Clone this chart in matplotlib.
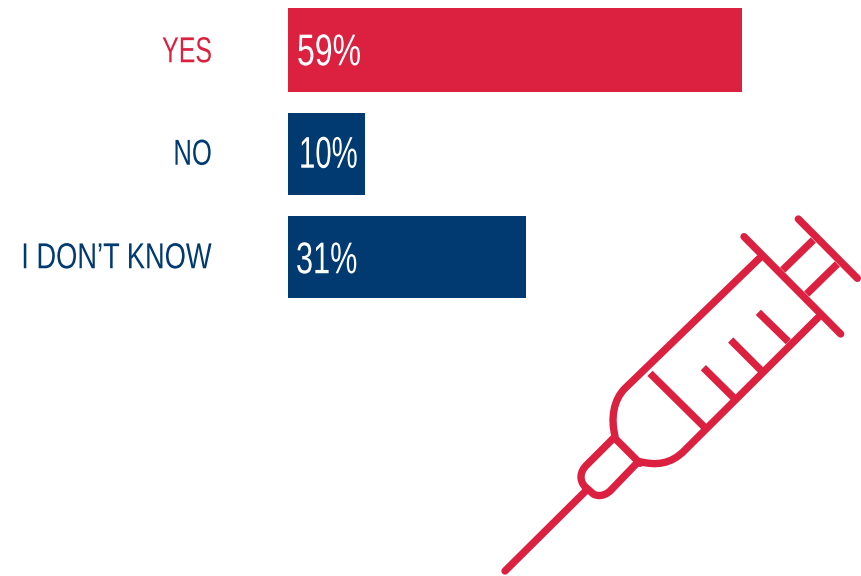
import matplotlib
matplotlib.use("Agg")
import matplotlib.pyplot as plt
from matplotlib.path import Path
from matplotlib.patches import PathPatch
from matplotlib.patheffects import AbstractPathEffect
from matplotlib.transforms import Affine2D

W, H = 861, 576
RED = "#DB2040"
NAVY = "#003A70"
PT = 0.72  # points per pixel at dpi 100

categories = ["YES", "NO", "I DON\u2019T KNOW"]
values = [59, 10, 31]
bar_colors = [RED, NAVY, NAVY]
label_colors = [RED, NAVY, NAVY]
bar_heights = [0.81, 0.79, 0.79]

# label placement in px relative to the bar start / bar centre
label_squeeze = [0.69, 0.71, 0.755]
label_base = [12, 11, 11]
value_squeeze = [0.72, 0.66, 0.69]
value_x = [9, 11, 8]
value_base = [15, 14, 16]


class Squeeze(AbstractPathEffect):
    # narrows the glyphs horizontally, no condensed face is available
    def __init__(self, sx):
        super().__init__()
        self.sx = sx

    def draw_path(self, renderer, gc, tpath, affine, rgbFace=None):
        renderer.draw_path(gc, tpath, Affine2D().scale(self.sx, 1) + affine, rgbFace)


plt.rcParams['font.family'] = ['Liberation Sans', 'DejaVu Sans']

fig = plt.figure(figsize=(W / 100, H / 100), dpi=100)

# bars: axes runs from x=288px with 7.69 px per percent
left, right = 288, 288 + 7.69 * 100
top, bottom = 50.25 - 103.5 / 2, 50.25 + 2.5 * 103.5
ax = fig.add_axes([left / W, 1 - bottom / H, (right - left) / W, (bottom - top) / H])
ax.barh(range(3), values, height=bar_heights, color=bar_colors)
ax.set_xlim(0, 100)
ax.set_ylim(2.5, -0.5)
ax.axis("off")

rend = fig.canvas.get_renderer()
for i, (cat, val) in enumerate(zip(categories, values)):
    t = ax.annotate(cat, (0, i), xytext=(0, -label_base[i] * PT), textcoords="offset points",
                    ha="left", va="baseline", fontsize=26, color=label_colors[i],
                    annotation_clip=False)
    # left aligned so the squeezed text can be set to end at x=212px
    w = t.get_window_extent(rend).width
    t.xyann = ((-76 - label_squeeze[i] * w) * PT, -label_base[i] * PT)
    t.set_path_effects([Squeeze(label_squeeze[i])])

    v = ax.annotate(f"{val}%", (0, i), xytext=(value_x[i] * PT, -value_base[i] * PT),
                    textcoords="offset points", ha="left", va="baseline", fontsize=32,
                    color="white", annotation_clip=False)
    v.set_path_effects([Squeeze(value_squeeze[i])])

# syringe icon, drawn in its own pixel-sized overlay
icon = fig.add_axes([0, 0, 1, 1])
icon.set_xlim(0, W)
icon.set_ylim(H, 0)
icon.axis("off")
icon.patch.set_alpha(0)


def px(x, y):
    # icon was laid out on a 3x grid with origin at (480, 200)
    return (480 + x / 3, 200 + y / 3)


def stroke(points, codes=None, cap="round"):
    pts = [px(*p) for p in points]
    if codes is None:
        codes = [Path.MOVETO] + [Path.LINETO] * (len(pts) - 1)
    icon.add_patch(PathPatch(Path(pts, codes), fill=False, edgecolor=RED, lw=5.3,
                             capstyle=cap, joinstyle="round"))


M, L, C = Path.MOVETO, Path.LINETO, Path.CURVE4

# needle
stroke([(75, 1113), (315, 875)])
# hub
stroke([(400, 715), (322, 793), (298, 815), (298, 842), (315, 860), (340, 882),
        (358, 892), (380, 885), (395, 868), (470, 790)],
       [M, L, C, C, C, L, C, C, C, L])
stroke([(405, 715), (480, 790)])
# barrel
stroke([(838, 175), (435, 565), (400, 600), (392, 655), (405, 708)], [M, L, C, C, C])
stroke([(1015, 352), (615, 750), (572, 795), (525, 796), (480, 785)], [M, L, C, C, C])
# flange and plunger
stroke([(792, 110), (1082, 402)])
stroke([(1000, 120), (908, 210)], cap="butt")
stroke([(1072, 192), (980, 282)], cap="butt")
stroke([(955, 57), (1132, 235)])
# graduation marks
stroke([(510, 520), (672, 680)], cap="butt")
stroke([(670, 503), (760, 592)], cap="butt")
stroke([(752, 420), (842, 510)], cap="butt")
stroke([(835, 337), (925, 425)], cap="butt")

fig.savefig("out.png", dpi=100)
